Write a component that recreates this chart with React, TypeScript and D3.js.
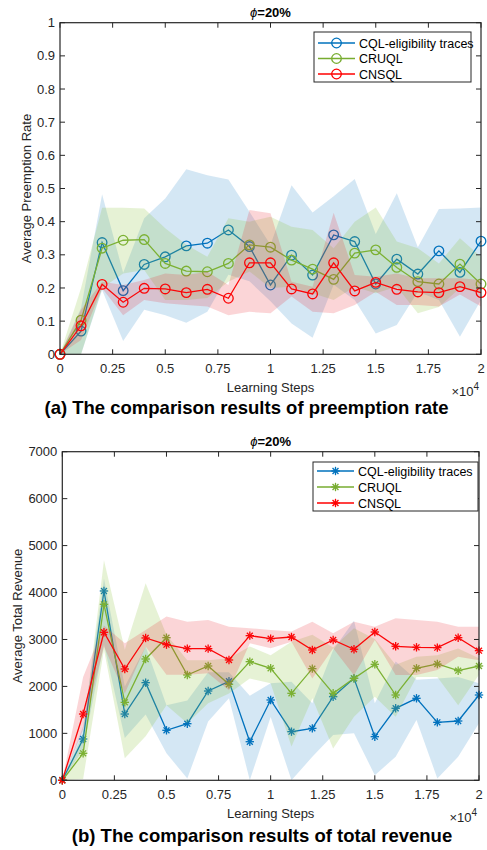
import React from "react";
import * as d3 from "d3";

const steps = [0, 0.1, 0.2, 0.3, 0.4, 0.5, 0.6, 0.7, 0.8, 0.9, 1.0, 1.1, 1.2, 1.3, 1.4, 1.5, 1.6, 1.7, 1.8, 1.9, 2.0];
const seriesNames = ["CQL-eligibility traces", "CRUQL", "CNSQL"];

// (a) preemption rate
const cqlRate = [0, 0.07, 0.337, 0.192, 0.271, 0.294, 0.327, 0.335, 0.375, 0.325, 0.209, 0.299, 0.239, 0.36, 0.34, 0.212, 0.287, 0.242, 0.312, 0.247, 0.341];
const cruqlRate = [0, 0.103, 0.32, 0.344, 0.346, 0.274, 0.251, 0.249, 0.274, 0.33, 0.323, 0.284, 0.257, 0.226, 0.305, 0.315, 0.262, 0.219, 0.212, 0.272, 0.212];
const cnsqlRate = [0, 0.086, 0.211, 0.157, 0.199, 0.197, 0.186, 0.196, 0.169, 0.276, 0.276, 0.197, 0.182, 0.276, 0.191, 0.217, 0.196, 0.188, 0.186, 0.204, 0.186];
const cqlRateLo = [0, 0.0, 0.194, 0.04, 0.134, 0.118, 0.095, 0.128, 0.24, 0.22, 0.16, 0.093, 0.05, 0.21, 0.164, 0.063, 0.088, 0.189, 0.164, 0.053, 0.164];
const cqlRateHi = [0, 0.14, 0.483, 0.246, 0.41, 0.47, 0.558, 0.54, 0.527, 0.43, 0.33, 0.51, 0.428, 0.477, 0.529, 0.363, 0.486, 0.323, 0.438, 0.44, 0.443];
const cruqlRateLo = [0, 0.0, 0.2, 0.244, 0.254, 0.164, 0.164, 0.17, 0.219, 0.25, 0.2, 0.204, 0.184, 0.164, 0.204, 0.184, 0.204, 0.124, 0.143, 0.2, 0.184];
const cruqlRateHi = [0, 0.2, 0.442, 0.442, 0.44, 0.38, 0.33, 0.294, 0.41, 0.4, 0.415, 0.385, 0.375, 0.32, 0.4, 0.443, 0.34, 0.32, 0.274, 0.35, 0.294];
const cnsqlRateLo = [0, 0.043, 0.199, 0.118, 0.164, 0.154, 0.149, 0.144, 0.118, 0.128, 0.124, 0.174, 0.128, 0.124, 0.149, 0.189, 0.149, 0.149, 0.144, 0.18, 0.144];
const cnsqlRateHi = [0, 0.134, 0.219, 0.209, 0.224, 0.244, 0.239, 0.249, 0.209, 0.435, 0.425, 0.219, 0.204, 0.427, 0.239, 0.234, 0.244, 0.229, 0.229, 0.229, 0.224];

// (b) total revenue
const cqlRev = [0, 880, 4033, 1412, 2080, 1065, 1206, 1902, 2109, 822, 1711, 1036, 1107, 1781, 2172, 929, 1534, 1747, 1235, 1263, 1817];
const cruqlRev = [0, 575, 3749, 1661, 2584, 3038, 2243, 2435, 2045, 2527, 2386, 1853, 2378, 1853, 2172, 2471, 1817, 2386, 2478, 2335, 2435];
const cnsqlRev = [0, 1412, 3153, 2371, 3032, 2889, 2804, 2804, 2563, 3081, 3017, 3053, 2776, 2990, 2791, 3159, 2855, 2833, 2826, 3038, 2761];
const cqlRevLo = [0, 650, 2900, 900, 1400, 575, 40, 1250, 1750, 0, 1350, 0, 500, 965, 1000, 110, 500, 1285, 40, 500, 1214];
const cqlRevHi = [0, 1150, 4300, 2000, 2850, 1600, 1700, 2300, 2300, 1800, 2070, 2100, 1640, 2776, 3400, 1640, 2530, 2140, 2170, 2200, 2066];
const cruqlRevLo = [0, 30, 2780, 470, 940, 1600, 1214, 1640, 1850, 2170, 2066, 720, 1750, 680, 1355, 1780, 1355, 2200, 2200, 1600, 2250];
const cruqlRevHi = [0, 1000, 4690, 2780, 4200, 3100, 2560, 2560, 2600, 2850, 2665, 2950, 3100, 2830, 3240, 3010, 2460, 2630, 2665, 2810, 2600];
const cnsqlRevLo = [0, 1080, 2850, 1850, 2850, 2250, 2250, 2280, 1920, 2920, 2812, 2950, 2170, 2812, 2240, 2990, 2243, 2243, 2350, 2630, 2560];
const cnsqlRevHi = [0, 2200, 3300, 2920, 3200, 3490, 3380, 3415, 3270, 3240, 3202, 3170, 3380, 3131, 3380, 3273, 3450, 3415, 3380, 3273, 3273];

const xTicks = [0, 0.25, 0.5, 0.75, 1, 1.25, 1.5, 1.75, 2];
const rateTicks = [0, 0.1, 0.2, 0.3, 0.4, 0.5, 0.6, 0.7, 0.8, 0.9, 1];
const revTicks = [0, 1000, 2000, 3000, 4000, 5000, 6000, 7000];

const lineColors = ["#0072BD", "#77AC30", "#FF0000"];
const bandColors = ["#0072BD", "#8CC63F", "#E8202A"];
const bandOpacity = [0.17, 0.22, 0.19];

const FONT = "'Liberation Sans', Arial, Helvetica, sans-serif";
const AX = "#262626";

type PanelProps = {
  x0: number; x1: number; yTop: number; yBot: number;
  yMax: number; yTicks: number[]; yFmt: (v: number) => string;
  vals: number[][]; lo: number[][]; hi: number[][];
  marker: "o" | "*";
  yLabel: string; yLabelX: number; caption: string; captionX: number; captionY: number;
  legend: { x: number; y: number; w: number; h: number; rows: number[] };
};

function Marker({ kind, cx, cy, color }: { kind: "o" | "*"; cx: number; cy: number; color: string }) {
  if (kind === "o") return <circle cx={cx} cy={cy} r={4.8} fill="none" stroke={color} strokeWidth={1.3} />;
  const r = 4.2;
  const d = r * Math.SQRT1_2;
  return (
    <g stroke={color} strokeWidth={1.3}>
      <line x1={cx - r} y1={cy} x2={cx + r} y2={cy} />
      <line x1={cx} y1={cy - r} x2={cx} y2={cy + r} />
      <line x1={cx - d} y1={cy - d} x2={cx + d} y2={cy + d} />
      <line x1={cx - d} y1={cy + d} x2={cx + d} y2={cy - d} />
    </g>
  );
}

function Panel(p: PanelProps) {
  const x = d3.scaleLinear().domain([0, 2]).range([p.x0, p.x1]);
  const y = d3.scaleLinear().domain([0, p.yMax]).range([p.yBot, p.yTop]);
  const line = d3.line<number>().x((_, i) => x(steps[i])).y((v) => y(v));
  const tick = 5;
  const cx = (p.x0 + p.x1) / 2;
  return (
    <g>
      {p.vals.map((vs, s) => {
        const area = d3.area<number>()
          .x((_, i) => x(steps[i]))
          .y0((_, i) => y(p.lo[s][i]))
          .y1((_, i) => y(p.hi[s][i]));
        return (
          <g key={s}>
            <path d={line(vs) || ""} fill="none" stroke={lineColors[s]} strokeWidth={1.3} />
            {vs.map((v, i) => (
              <Marker key={i} kind={p.marker} cx={x(steps[i])} cy={y(v)} color={lineColors[s]} />
            ))}
            <path d={area(vs) || ""} fill={bandColors[s]} fillOpacity={bandOpacity[s]} stroke="none" />
          </g>
        );
      })}
      <rect x={p.x0} y={p.yTop} width={p.x1 - p.x0} height={p.yBot - p.yTop} fill="none" stroke={AX} strokeWidth={1.2} />
      {xTicks.map((t) => (
        <g key={"x" + t}>
          <line x1={x(t)} x2={x(t)} y1={p.yBot} y2={p.yBot - tick} stroke={AX} strokeWidth={1} />
          <line x1={x(t)} x2={x(t)} y1={p.yTop} y2={p.yTop + tick} stroke={AX} strokeWidth={1} />
          <text x={x(t)} y={p.yBot + 19} textAnchor="middle" fontSize={13} fill={AX} fontFamily={FONT}>{String(t)}</text>
        </g>
      ))}
      {p.yTicks.map((t) => (
        <g key={"y" + t}>
          <line x1={p.x0} x2={p.x0 + tick} y1={y(t)} y2={y(t)} stroke={AX} strokeWidth={1} />
          <line x1={p.x1} x2={p.x1 - tick} y1={y(t)} y2={y(t)} stroke={AX} strokeWidth={1} />
          <text x={p.x0 - 5} y={y(t) + 4.6} textAnchor="end" fontSize={13} fill={AX} fontFamily={FONT}>{p.yFmt(t)}</text>
        </g>
      ))}
      <text x={cx} y={p.yBot + 38} textAnchor="middle" fontSize={13} fill={AX} fontFamily={FONT}>Learning Steps</text>
      <text x={p.x1 - 2} y={p.yBot + 42} textAnchor="end" fontSize={13} fill={AX} fontFamily={FONT}>
        ×10<tspan fontSize={10} dy={-6}>4</tspan>
      </text>
      <text transform={`translate(${p.yLabelX},${(p.yTop + p.yBot) / 2}) rotate(-90)`} textAnchor="middle" fontSize={13} fill={AX} fontFamily={FONT}>{p.yLabel}</text>
      <text x={cx} y={p.yTop - 6} textAnchor="middle" fontSize={13} fill="#000" fontFamily={FONT}>
        <tspan fontStyle="italic">ϕ</tspan><tspan fontWeight="bold">=20%</tspan>
      </text>
      <text x={p.captionX} y={p.captionY} textAnchor="middle" fontSize={18.5} fontWeight="bold" fill="#000" fontFamily={FONT}>{p.caption}</text>
      <rect x={p.legend.x} y={p.legend.y} width={p.legend.w} height={p.legend.h} fill="#fff" stroke={AX} strokeWidth={1} />
      {seriesNames.map((n, s) => (
        <g key={n}>
          <line x1={p.legend.x + 4} x2={p.legend.x + 41} y1={p.legend.rows[s]} y2={p.legend.rows[s]} stroke={lineColors[s]} strokeWidth={1.3} />
          <Marker kind={p.marker} cx={p.legend.x + 22.5} cy={p.legend.rows[s]} color={lineColors[s]} />
          <text x={p.legend.x + 45} y={p.legend.rows[s] + 4.5} fontSize={12.5} fill="#000" fontFamily={FONT}>{n}</text>
        </g>
      ))}
    </g>
  );
}

export default function App() {
  return (
    <svg width={487} height={850} style={{ position: "absolute", left: 0, top: 0, background: "#fff" }}>
      <rect x={0} y={0} width={487} height={850} fill="#fff" />
      <Panel
        x0={60} x1={481} yTop={22.7} yBot={354.3} yMax={1} yTicks={rateTicks}
        yFmt={(v) => String(+v.toFixed(1))}
        vals={[cqlRate, cruqlRate, cnsqlRate]}
        lo={[cqlRateLo, cruqlRateLo, cnsqlRateLo]}
        hi={[cqlRateHi, cruqlRateHi, cnsqlRateHi]}
        marker="o" yLabel="Average Preemption Rate" yLabelX={31}
        caption="(a) The comparison results of preemption rate" captionX={246.5} captionY={414}
        legend={{ x: 314, y: 32, w: 157, h: 50, rows: [43, 58.5, 74] }}
      />
      <Panel
        x0={62.3} x1={479} yTop={451.7} yBot={780.3} yMax={7000} yTicks={revTicks}
        yFmt={(v) => String(v)}
        vals={[cqlRev, cruqlRev, cnsqlRev]}
        lo={[cqlRevLo, cruqlRevLo, cnsqlRevLo]}
        hi={[cqlRevHi, cruqlRevHi, cnsqlRevHi]}
        marker="*" yLabel="Average Total Revenue" yLabelX={22}
        caption="(b) The comparison results of total revenue" captionX={262} captionY={841.5}
        legend={{ x: 313, y: 462, w: 165, h: 49, rows: [471, 487, 503] }}
      />
    </svg>
  );
}
